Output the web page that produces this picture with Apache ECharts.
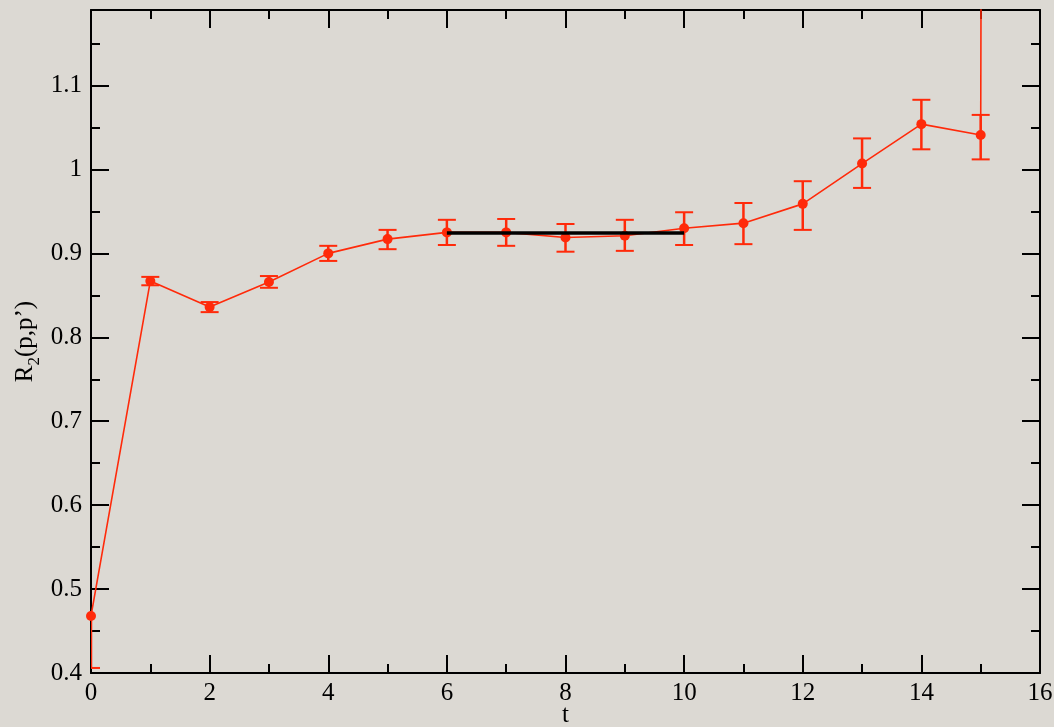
<!DOCTYPE html>
<html>
<head>
<meta charset="utf-8">
<script src="https://cdn.jsdelivr.net/npm/echarts@6/dist/echarts.min.js"></script>
<style>
html,body{margin:0;padding:0;background:#dcd9d3;}
#c{width:1054px;height:727px;}
</style>
</head>
<body>
<div id="c"></div>
<script>
// ---- data ----
const tValues = [0, 1, 2, 3, 4, 5, 6, 7, 8, 9, 10, 11, 12, 13, 14, 15, 16];
const r2Values = [0.468, 0.867, 0.836, 0.866, 0.900, 0.917, 0.925, 0.925, 0.919, 0.921, 0.930, 0.936, 0.959, 1.007, 1.054, 1.041, 30];
const errLower = [0.062, 0.005, 0.006, 0.007, 0.009, 0.012, 0.015, 0.016, 0.017, 0.018, 0.020, 0.025, 0.031, 0.029, 0.030, 0.029, 0];
const errUpper = [0.0, 0.005, 0.006, 0.007, 0.009, 0.011, 0.015, 0.016, 0.016, 0.019, 0.019, 0.024, 0.027, 0.030, 0.029, 0.024, 0];
const fitRange = [6, 10];
const fitValue = 0.9242;
const xTicks = [0, 2, 4, 6, 8, 10, 12, 14, 16];
const yTicks = [0.4, 0.5, 0.6, 0.7, 0.8, 0.9, 1, 1.1];

// ---- chart ----
const RED = '#ff2a0a';
const FONT = 'Liberation Serif';
const lineData = tValues.map((t, i) => [t, r2Values[i]]);
const errData = tValues.slice(0, 16).map((t, i) => [t, r2Values[i] - errLower[i], r2Values[i] + errUpper[i], r2Values[i]]);
const fitData = fitRange.map(t => [t, fitValue]);

const tickStyle = {show: true, inside: true, length: 18, lineStyle: {color: '#000', width: 2}};
const minorStyle = {show: true, splitNumber: 2, length: 9, lineStyle: {color: '#000', width: 2}};

function axisBase(extra) {
  return Object.assign({
    axisLine: {show: true, onZero: false, lineStyle: {color: '#000', width: 2}},
    splitLine: {show: false},
    minorSplitLine: {show: false},
    axisTick: tickStyle,
    minorTick: minorStyle
  }, extra);
}

const chart = echarts.init(document.getElementById('c'), null, {renderer: 'canvas'});
chart.setOption({
  backgroundColor: '#dcd9d3',
  animation: false,
  grid: {left: 91, right: 14, top: 10, bottom: 54, containLabel: false, outerBoundsMode: 'none'},
  xAxis: [
    axisBase({
      type: 'value', min: xTicks[0], max: xTicks[xTicks.length - 1], interval: 2, position: 'bottom',
      name: 't', nameLocation: 'middle', nameGap: 30, nameMoveOverlap: false,
      nameTextStyle: {fontFamily: FONT, fontSize: 25, color: '#000'},
      axisLabel: {show: true, fontFamily: FONT, fontSize: 25, color: '#000', margin: 8}
    }),
    axisBase({
      type: 'value', min: xTicks[0], max: xTicks[xTicks.length - 1], interval: 2, position: 'top',
      axisLabel: {show: false}
    })
  ],
  yAxis: [
    axisBase({
      type: 'value', min: 0.4, max: 1.19, interval: 0.1, position: 'left',
      name: '{a|R}{b|2}{a|(p,p’)}', nameLocation: 'middle', nameGap: 53, nameRotate: 90, nameMoveOverlap: false,
      nameTextStyle: {
        fontFamily: FONT, fontSize: 25, color: '#000',
        rich: {
          a: {fontFamily: FONT, fontSize: 25, color: '#000', verticalAlign: 'bottom'},
          b: {fontFamily: FONT, fontSize: 17, color: '#000', verticalAlign: 'bottom', padding: [0, 0, -5, 0]}
        }
      },
      axisLabel: {show: true, fontFamily: FONT, fontSize: 25, color: '#000', margin: 9,
        showMaxLabel: false,
        formatter: v => (yTicks.some(y => Math.abs(y - v) < 1e-9) ? String(+v.toFixed(2)) : '')}
    }),
    axisBase({
      type: 'value', min: 0.4, max: 1.19, interval: 0.1, position: 'right',
      axisLabel: {show: false}
    })
  ],
  series: [
    {
      type: 'custom',
      xAxisIndex: 0, yAxisIndex: 0,
      clip: true,
      data: errData,
      renderItem: function (params, api) {
        const x = api.value(0), lo = api.value(1), hi = api.value(2), v = api.value(3);
        const pLo = api.coord([x, lo]);
        const pHi = api.coord([x, hi]);
        const w = 9;
        const style = {stroke: RED, lineWidth: 2};
        const children = [
          {type: 'line', shape: {x1: pLo[0], y1: pLo[1], x2: pHi[0], y2: pHi[1]}, style: {stroke: RED, lineWidth: 2.5}}
        ];
        if (Math.abs(lo - v) > 1e-9) children.push({type: 'line', shape: {x1: pLo[0] - w, y1: pLo[1], x2: pLo[0] + w, y2: pLo[1]}, style: style});
        if (Math.abs(hi - v) > 1e-9) children.push({type: 'line', shape: {x1: pHi[0] - w, y1: pHi[1], x2: pHi[0] + w, y2: pHi[1]}, style: style});
        return {type: 'group', children: children};
      },
      z: 2
    },
    {
      type: 'line',
      xAxisIndex: 0, yAxisIndex: 0,
      data: lineData,
      clip: true,
      symbol: 'circle', symbolSize: 10, showSymbol: true,
      lineStyle: {color: RED, width: 1.6},
      itemStyle: {color: RED},
      z: 3
    },
    {
      type: 'line',
      xAxisIndex: 0, yAxisIndex: 0,
      data: fitData,
      symbol: 'none',
      lineStyle: {color: '#000', width: 3.5},
      z: 4
    }
  ]
});
</script>
</body>
</html>
